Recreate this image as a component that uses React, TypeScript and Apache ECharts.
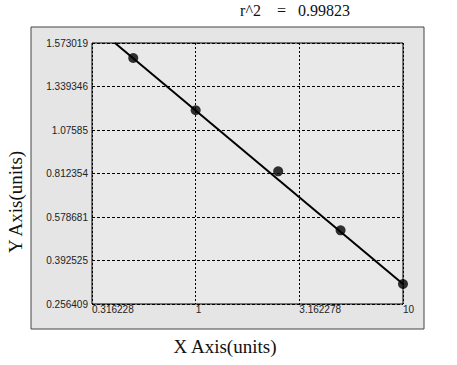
import React, { useEffect, useRef } from "react";
import * as echarts from "echarts";

const xTickValues = [0.316228, 1, 3.162278, 10];
const xTickLabels = ["0.316228", "1", "3.162278", "10"];
const yTickLabels = ["0.256409", "0.392525", "0.578681", "0.812354", "1.07585", "1.339346", "1.573019"];
// y values expressed in axis-position units (0 = bottom tick, 6 = top tick)
const pointX = [0.5, 1, 2.5, 5, 10];
const pointY = [5.655, 4.453, 3.05, 1.694, 0.46];
const fitX = [0.408, 10];
const fitY = [6.0, 0.46];
const title = "r^2    =   0.99823";

export default function App() {
  const ref = useRef<HTMLDivElement>(null);
  useEffect(() => {
    if (!ref.current) return;
    const chart = echarts.init(ref.current, undefined, { renderer: "svg" });
    const sans = "Liberation Sans, Arial, sans-serif";
    const serif = "Liberation Serif, Times New Roman, serif";
    chart.setOption({
      animation: false,
      backgroundColor: "#ffffff",
      graphic: [
        {
          type: "rect",
          z: -10,
          shape: { x: 31, y: 27, width: 393, height: 302 },
          style: { fill: "#e5e5e5", stroke: "#444", lineWidth: 1 },
          silent: true,
        },
        {
          type: "text",
          x: 295,
          y: 10,
          style: { text: title, font: `16px ${serif}`, fill: "#111", align: "center", verticalAlign: "middle" },
        },
        {
          type: "text",
          x: 225,
          y: 346,
          style: { text: "X Axis(units)", font: `19px ${serif}`, fill: "#111", align: "center", verticalAlign: "middle" },
        },
        {
          type: "text",
          x: 15,
          y: 202,
          rotation: Math.PI / 2,
          style: { text: "Y Axis(units)", font: `19px ${serif}`, fill: "#111", align: "center", verticalAlign: "middle" },
        },
      ],
      grid: {
        left: 92,
        top: 43,
        right: 54,
        bottom: 61,
        show: true,
        borderColor: "#000",
        borderWidth: 1,
        backgroundColor: "#e9e9e9",
        containLabel: false,
      },
      xAxis: {
        type: "log",
        logBase: Math.sqrt(10),
        min: xTickValues[0],
        max: xTickValues[xTickValues.length - 1],
        axisLine: { show: false },
        axisTick: { show: false },
        minorTick: { show: false },
        splitLine: { show: true, lineStyle: { color: "#000", type: [2, 2], width: 1 } },
        axisLabel: {
          color: "#222",
          fontFamily: sans,
          fontSize: 10,
          align: "left",
          margin: 0,
          showMinLabel: true,
          showMaxLabel: true,
          formatter: (v: number) => {
            let best = 0;
            for (let i = 0; i < xTickValues.length; i++) {
              if (Math.abs(Math.log(xTickValues[i]) - Math.log(v)) < Math.abs(Math.log(xTickValues[best]) - Math.log(v))) best = i;
            }
            return xTickLabels[best];
          },
        },
      },
      yAxis: {
        type: "value",
        min: 0,
        max: 6,
        interval: 1,
        axisLine: { show: false },
        axisTick: { show: false },
        splitLine: { show: true, lineStyle: { color: "#000", type: [3, 2], width: 1 } },
        axisLabel: {
          color: "#222",
          fontFamily: sans,
          fontSize: 10,
          margin: 4,
          showMinLabel: true,
          showMaxLabel: true,
          formatter: (v: number) => yTickLabels[Math.round(v)] ?? "",
        },
      },
      series: [
        {
          type: "line",
          data: fitX.map((x, i) => [x, fitY[i]]),
          showSymbol: false,
          symbol: "none",
          lineStyle: { color: "#000", width: 2 },
          z: 2,
        },
        {
          type: "scatter",
          data: pointX.map((x, i) => [x, pointY[i]]),
          symbol: "circle",
          symbolSize: 10,
          itemStyle: { color: "#000" },
          z: 3,
        },
      ],
    });
    return () => chart.dispose();
  }, []);
  return <div ref={ref} style={{ position: "fixed", left: 0, top: 0, width: 457, height: 365 }} />;
}
